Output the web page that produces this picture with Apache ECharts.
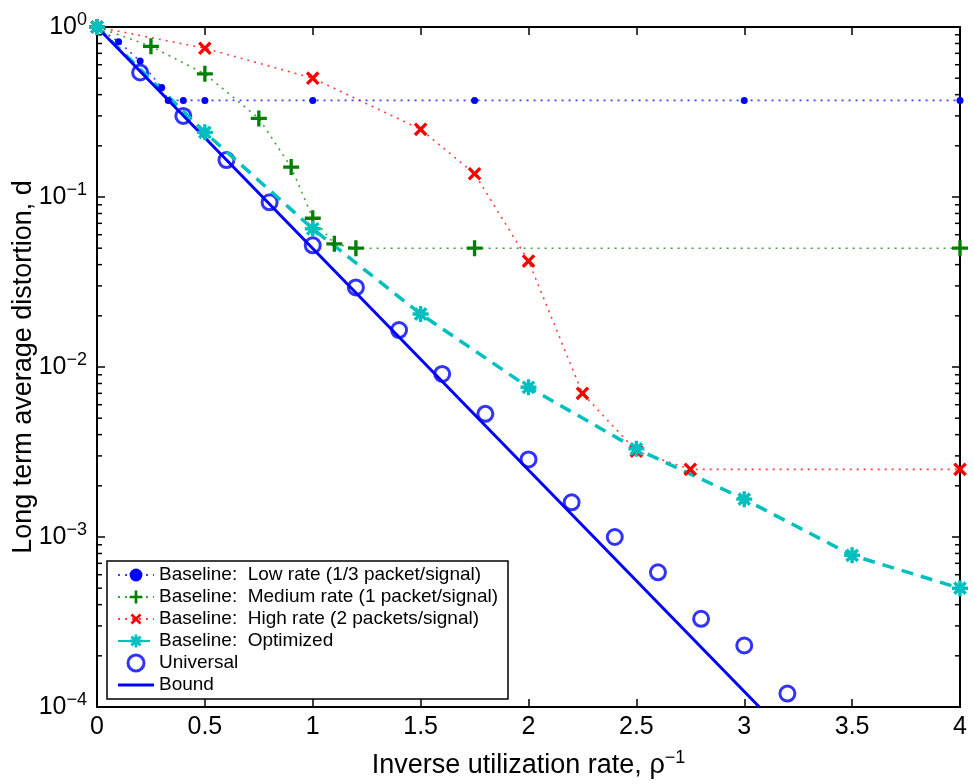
<!DOCTYPE html>
<html><head><meta charset="utf-8">
<script src="https://cdn.jsdelivr.net/npm/echarts@6/dist/echarts.min.js"></script>
<style>html,body{margin:0;padding:0;background:#fff}#c{width:974px;height:784px}</style>
</head><body><div id="c"></div>
<script>
// ---- data ----
const xTicks = [0, 0.5, 1, 1.5, 2, 2.5, 3, 3.5, 4];
const yTickExps = [0, -1, -2, -3, -4];

const lowX  = [0, 0.1, 0.2, 0.3, 0.33, 0.4, 0.5, 1.0, 1.75, 3.0, 4.0];
const lowY  = [1, 0.82, 0.63, 0.44, 0.37, 0.37, 0.37, 0.37, 0.37, 0.37, 0.37];

const medX  = [0, 0.25, 0.5, 0.75, 0.9, 1.0, 1.1, 1.2, 1.75, 4.0];
const medY  = [1, 0.77, 0.53, 0.29, 0.15, 0.075, 0.053, 0.05, 0.05, 0.05];

const highX = [0, 0.5, 1.0, 1.5, 1.75, 2.0, 2.25, 2.5, 2.75, 4.0];
const highY = [1, 0.75, 0.5, 0.25, 0.137, 0.042, 0.007, 0.0032, 0.0025, 0.0025];

const optX  = [0, 0.5, 1.0, 1.5, 2.0, 2.5, 3.0, 3.5, 4.0];
const optY  = [1, 0.24, 0.065, 0.0205, 0.0076, 0.0033, 0.00167, 0.00078, 0.0005];

const uniX  = [0.2, 0.4, 0.6, 0.8, 1.0, 1.2, 1.4, 1.6, 1.8, 2.0, 2.2, 2.4, 2.6, 2.8, 3.0, 3.2];
const uniY  = [0.54, 0.30, 0.165, 0.093, 0.052, 0.0294, 0.0165, 0.0091, 0.0053, 0.00286, 0.0016, 0.001, 0.00062, 0.00033, 0.00023, 0.00012];

const boundX = [0, 3.07];
const boundY = [1, 0.0001];

const names = [
  'Baseline:  Low rate (1/3 packet/signal)',
  'Baseline:  Medium rate (1 packet/signal)',
  'Baseline:  High rate (2 packets/signal)',
  'Baseline:  Optimized',
  'Universal',
  'Bound'
];
const xTitle = 'Inverse utilization rate, \u03C1';
const xTitleSup = '\u22121';
const yTitle = 'Long term average distortion, d';

// ---- helpers ----
const zip = (xs, ys) => xs.map((x, i) => [x, ys[i]]);
const FONT = 'Liberation Sans, Arial, Helvetica, sans-serif';

const plusPath = 'path://M-1.25,-6H1.25V-1.25H6V1.25H1.25V6H-1.25V1.25H-6V-1.25H-1.25Z';
function starPath() {
  const L = 6, w = 1.3;
  let d = '';
  [0, 45, 90, 135].forEach(a => {
    const r = a * Math.PI / 180, c = Math.cos(r), s = Math.sin(r);
    const pts = [[-L, -w], [L, -w], [L, w], [-L, w]].map(([x, y]) => [x * c - y * s, x * s + y * c]);
    d += 'M' + pts.map(p => p[0].toFixed(3) + ',' + p[1].toFixed(3)).join('L') + 'Z';
  });
  return 'path://' + d;
}

// minor tick values of the log axis (2..9 x 10^k)
const minorVals = [];
for (let k = -4; k < 0; k++) for (let m = 2; m <= 9; m++) minorVals.push([0, m * Math.pow(10, k)]);

const chart = echarts.init(document.getElementById('c'), null, {renderer: 'canvas'});

const axisLineStyle = {color: '#000', width: 2};

const option = {
  animation: false,
  backgroundColor: '#fff',
  textStyle: {fontFamily: FONT},
  grid: {left: 97, right: 14, top: 27, bottom: 77, containLabel: false, outerBoundsMode: 'none'},
  legend: {
    orient: 'vertical', left: 107, top: 561,
    data: [
      {name: names[0], itemStyle: {color: '#0000ff'}},
      {name: names[1]},
      {name: names[2]},
      {name: names[3]},
      {name: names[4], itemStyle: {borderWidth: 3, borderColor: '#0000ff', color: 'rgba(0,0,0,0)'}},
      {name: names[5], icon: 'path://M0,-1.5H34V1.5H0Z', itemStyle: {color: '#0000ff'}}
    ],
    selectedMode: false,
    itemWidth: 36, itemHeight: 16, itemGap: 0,
    padding: [3, 10, 3, 10],
    backgroundColor: '#fff', borderColor: '#000', borderWidth: 1.5, borderRadius: 0,
    textStyle: {fontSize: 19, lineHeight: 22, color: '#000', fontFamily: FONT}
  },
  xAxis: [{
    type: 'value', min: 0, max: 4, interval: 0.5, position: 'bottom',
    axisLine: {show: true, onZero: false, lineStyle: axisLineStyle},
    axisTick: {show: true, inside: true, length: 8, lineStyle: {color: '#000', width: 1.5}},
    splitLine: {show: false},
    axisLabel: {fontSize: 25, color: '#000', margin: 8, fontFamily: FONT,
      formatter: v => xTicks.includes(v) ? String(v) : ''},
    name: '{t|' + xTitle + '}{s|' + xTitleSup + '}',
    nameLocation: 'middle', nameGap: 42, nameMoveOverlap: false,
    nameTextStyle: {rich: {
      t: {fontSize: 27, lineHeight: 34, fontFamily: FONT, color: '#000'},
      s: {fontSize: 18, lineHeight: 14, verticalAlign: 'top', fontFamily: FONT, color: '#000'}
    }}
  }, {
    type: 'value', min: 0, max: 4, interval: 0.5, position: 'top',
    axisLine: {show: true, onZero: false, lineStyle: axisLineStyle},
    axisTick: {show: true, inside: true, length: 8, lineStyle: {color: '#000', width: 1.5}},
    splitLine: {show: false}, axisLabel: {show: false}
  }],
  yAxis: [{
    type: 'log', logBase: 10, min: 0.0001, max: 1, splitNumber: 4, position: 'left',
    axisLine: {show: true, onZero: false, lineStyle: axisLineStyle},
    axisTick: {show: true, inside: true, length: 8, lineStyle: {color: '#000', width: 1.5}},
    splitLine: {show: false},
    axisLabel: {margin: 10, color: '#000',
      formatter: v => {
        const e = Math.round(Math.log10(v));
        if (!yTickExps.includes(e)) return '';
        return '{b|10}{s|' + (e === 0 ? '0' : '\u2212' + (-e)) + '}';
      },
      rich: {
        b: {fontSize: 25, lineHeight: 32, fontFamily: FONT, color: '#000'},
        s: {fontSize: 18, lineHeight: 12, verticalAlign: 'top', fontFamily: FONT, color: '#000'}
      }
    },
    name: yTitle, nameLocation: 'middle', nameGap: 60, nameMoveOverlap: false,
    nameTextStyle: {fontSize: 27, color: '#000', fontFamily: FONT}
  }, {
    type: 'log', logBase: 10, min: 0.0001, max: 1, splitNumber: 4, position: 'right',
    axisLine: {show: true, onZero: false, lineStyle: axisLineStyle},
    axisTick: {show: true, inside: true, length: 8, lineStyle: {color: '#000', width: 1.5}},
    splitLine: {show: false}, axisLabel: {show: false}
  }],
  series: [
    {
      type: 'custom', name: 'minorTicks', xAxisIndex: 0, yAxisIndex: 0, silent: true, clip: false, z: 1,
      data: minorVals,
      renderItem: (params, api) => {
        const v = api.value(1);
        const pl = api.coord([0, v]);
        const pr = api.coord([4, v]);
        return {type: 'group', children: [
          {type: 'line', shape: {x1: pl[0], y1: pl[1], x2: pl[0] + 5, y2: pl[1]}, style: {stroke: '#000', lineWidth: 1.5}},
          {type: 'line', shape: {x1: pr[0] - 5, y1: pr[1], x2: pr[0], y2: pr[1]}, style: {stroke: '#000', lineWidth: 1.5}}
        ]};
      }
    },
    {
      type: 'line', name: names[0], data: zip(lowX, lowY),
      symbol: 'circle', symbolSize: 7, showAllSymbol: true,
      itemStyle: {color: '#0000ff'},
      lineStyle: {color: '#0000ff', width: 1.6, type: [2, 5], opacity: 0.75}
    },
    {
      type: 'line', name: names[1], data: zip(medX, medY),
      symbol: plusPath, symbolSize: 16, showAllSymbol: true,
      itemStyle: {color: '#008000'},
      lineStyle: {color: '#008000', width: 1.6, type: [2, 5], opacity: 0.75}
    },
    {
      type: 'line', name: names[2], data: zip(highX, highY),
      symbol: plusPath, symbolSize: 16, symbolRotate: 45, showAllSymbol: true,
      itemStyle: {color: '#ff0000'},
      lineStyle: {color: '#ff0000', width: 1.6, type: [2, 5], opacity: 0.75}
    },
    {
      type: 'line', name: names[3], data: zip(optX, optY),
      symbol: starPath(), symbolSize: 16, showAllSymbol: true,
      itemStyle: {color: '#00bfbf'},
      lineStyle: {color: '#00bfbf', width: 3.5, type: [12, 8]}
    },
    {
      type: 'scatter', name: names[4], data: zip(uniX, uniY),
      symbol: 'circle', symbolSize: 15,
      itemStyle: {color: 'rgba(0,0,0,0)', borderColor: '#0000ff', borderWidth: 3}
    },
    {
      type: 'line', name: names[5], data: zip(boundX, boundY),
      symbol: 'none', itemStyle: {color: '#0000ff'},
      lineStyle: {color: '#0000ff', width: 3}
    }
  ]
};
chart.setOption(option);
</script>
</body></html>
